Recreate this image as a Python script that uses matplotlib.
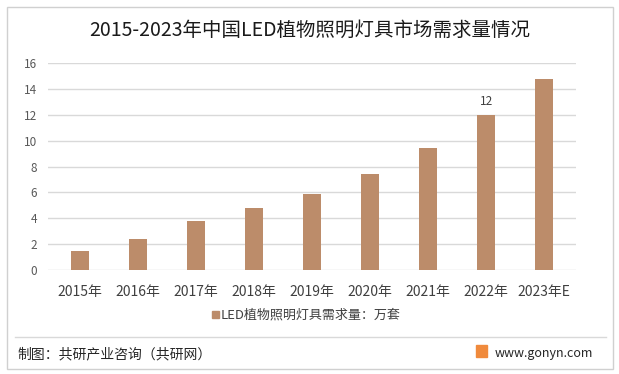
import matplotlib.pyplot as plt
from matplotlib.patches import Rectangle
from matplotlib.lines import Line2D

plt.rcParams['font.family'] = ['Noto Sans CJK SC', 'DejaVu Sans']

# 数据
years = ['2015年', '2016年', '2017年', '2018年', '2019年', '2020年', '2021年', '2022年', '2023年E']
demand = [1.5, 2.4, 3.8, 4.8, 5.9, 7.4, 9.4, 12, 14.8]
yticks = [0, 2, 4, 6, 8, 10, 12, 14, 16]

title = '2015-2023年中国LED植物照明灯具市场需求量情况'
legend_label = 'LED植物照明灯具需求量：万套'
bar_color = '#BC8C6A'

fig = plt.figure(figsize=(6.19, 3.74), dpi=100)
ax = fig.add_axes([48 / 619, 1 - 270 / 374, (576 - 48) / 619, (270 - 63) / 374])

x = list(range(len(years)))
ax.bar(x, demand, width=0.31, color=bar_color, zorder=2)
ax.set_xlim(-0.55, len(years) - 0.45)
ax.set_ylim(0, 16)
ax.set_yticks(yticks)
ax.set_xticks(x)
ax.set_xticklabels(years, fontsize=10, color='#404040')
ax.tick_params(axis='y', labelsize=8.5, labelcolor='#595959', length=0, pad=8)
ax.tick_params(axis='x', length=0, pad=11)
ax.grid(axis='y', color='#d9d9d9', linewidth=1, zorder=0)
for s in ax.spines.values():
    s.set_visible(False)

# 只标注2022年
i = years.index('2022年')
ax.text(i, demand[i] + 0.5, f'{demand[i]:g}', ha='center', va='bottom', fontsize=8.5, color='#404040')

# 标题
fig.text(0.5, 1 - 30 / 374, title, ha='center', va='center', fontsize=14, color='#1a1a1a')

# 图例
fig.patches.append(Rectangle((212 / 619, 1 - 318 / 374), 7 / 619, 7 / 374,
                             transform=fig.transFigure, color=bar_color))
fig.text(221 / 619, 1 - 315 / 374, legend_label, ha='left', va='center', fontsize=9.4, color='#404040')

# 外框与分隔线
fig.patches.append(Rectangle((7 / 619, 1 - 369 / 374), 606 / 619, 362 / 374, transform=fig.transFigure,
                             fill=False, edgecolor='#d0d0d0', linewidth=1))
fig.lines.append(Line2D([15 / 619, 606 / 619], [1 - 337 / 374, 1 - 337 / 374],
                        transform=fig.transFigure, color='#d9d9d9', linewidth=1))

# 底部来源
fig.text(17 / 619, 1 - 354 / 374, '制图：共研产业咨询（共研网）', ha='left', va='center', fontsize=10, color='#262626')
fig.patches.append(Rectangle((476 / 619, 1 - 357 / 374), 11 / 619, 12 / 374,
                             transform=fig.transFigure, color='#F08A3C'))
fig.text(495 / 619, 1 - 353 / 374, 'www.gonyn.com', ha='left', va='center', fontsize=9, color='#262626')

fig.savefig('out.png', dpi=100)
